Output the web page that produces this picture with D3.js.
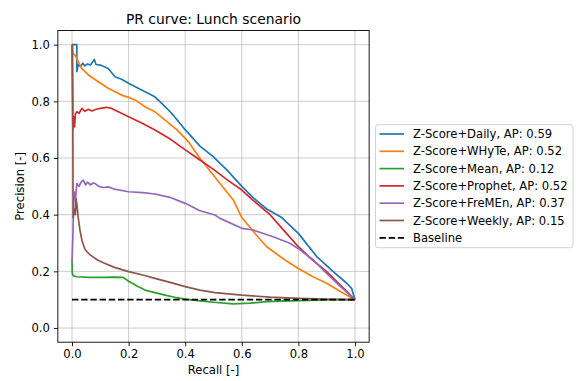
<!DOCTYPE html>
<html>
<head>
<meta charset="utf-8">
<script src="https://cdn.jsdelivr.net/npm/d3@7"></script>
<style>
  body { margin: 0; background: #fff; }
  text { font-family: "DejaVu Sans", sans-serif; fill: #000; }
</style>
</head>
<body>
<div id="chart"></div>
<script>
// tick labels
const xTicks = [0.0, 0.2, 0.4, 0.6, 0.8, 1.0];
const yTicks = [0.0, 0.2, 0.4, 0.6, 0.8, 1.0];

// series (recall, precision)
const dailyRecall = [0, 0.017, 0.017, 0.022, 0.03, 0.038, 0.045, 0.055, 0.065, 0.079, 0.085, 0.1, 0.128, 0.152, 0.175, 0.2, 0.246, 0.293, 0.32, 0.352, 0.4, 0.452, 0.499, 0.547, 0.6, 0.64, 0.664, 0.688, 0.741, 0.8, 0.865, 0.923, 0.971, 0.988, 1.0];
const dailyPrec   = [1.0, 1.0, 0.905, 0.93, 0.922, 0.935, 0.925, 0.932, 0.928, 0.948, 0.93, 0.928, 0.916, 0.887, 0.878, 0.864, 0.84, 0.816, 0.79, 0.758, 0.70, 0.642, 0.605, 0.558, 0.50, 0.46, 0.44, 0.42, 0.39, 0.334, 0.252, 0.199, 0.158, 0.14, 0.1];

const whyteRecall = [0, 0.005, 0.011, 0.034, 0.058, 0.093, 0.128, 0.175, 0.2, 0.223, 0.258, 0.293, 0.329, 0.37, 0.411, 0.452, 0.523, 0.57, 0.6, 0.65, 0.688, 0.75, 0.8, 0.85, 0.9, 0.95, 1.0];
const whytePrec   = [0.98, 0.968, 0.962, 0.916, 0.893, 0.869, 0.846, 0.822, 0.814, 0.805, 0.781, 0.763, 0.734, 0.70, 0.658, 0.599, 0.51, 0.452, 0.39, 0.33, 0.287, 0.242, 0.21, 0.182, 0.158, 0.128, 0.1];

const meanRecall = [0, 0.001, 0.005, 0.017, 0.06, 0.1, 0.15, 0.181, 0.2, 0.23, 0.258, 0.3, 0.329, 0.37, 0.4, 0.452, 0.5, 0.57, 0.63, 0.688, 0.8, 0.9, 1.0];
const meanPrec   = [0.24, 0.193, 0.184, 0.181, 0.179, 0.179, 0.18, 0.179, 0.165, 0.148, 0.134, 0.123, 0.116, 0.107, 0.102, 0.096, 0.091, 0.085, 0.088, 0.093, 0.097, 0.099, 0.1];

const prophetRecall = [0, 0.003, 0.006, 0.009, 0.012, 0.017, 0.025, 0.035, 0.045, 0.058, 0.07, 0.085, 0.1, 0.122, 0.14, 0.16, 0.2, 0.25, 0.293, 0.35, 0.393, 0.452, 0.5, 0.55, 0.6, 0.635, 0.7, 0.75, 0.8, 0.85, 0.9, 0.95, 1.0];
const prophetPrec   = [1.0, 0.70, 0.745, 0.71, 0.755, 0.763, 0.758, 0.775, 0.765, 0.772, 0.766, 0.772, 0.775, 0.779, 0.775, 0.765, 0.746, 0.722, 0.699, 0.665, 0.634, 0.593, 0.56, 0.522, 0.487, 0.455, 0.40, 0.343, 0.287, 0.24, 0.199, 0.15, 0.1];

const fremenRecall = [0, 0.003, 0.006, 0.01, 0.013, 0.017, 0.025, 0.032, 0.04, 0.048, 0.055, 0.065, 0.075, 0.081, 0.095, 0.11, 0.13, 0.15, 0.2, 0.25, 0.293, 0.35, 0.4, 0.452, 0.505, 0.523, 0.6, 0.64, 0.711, 0.77, 0.8, 0.853, 0.9, 0.95, 1.0];
const fremenPrec   = [0.235, 0.32, 0.44, 0.48, 0.46, 0.51, 0.50, 0.515, 0.522, 0.505, 0.515, 0.505, 0.512, 0.51, 0.50, 0.496, 0.498, 0.49, 0.481, 0.478, 0.473, 0.46, 0.44, 0.414, 0.399, 0.387, 0.352, 0.346, 0.322, 0.299, 0.28, 0.24, 0.193, 0.145, 0.1];

const weeklyRecall = [0, 0.002, 0.004, 0.008, 0.012, 0.014, 0.018, 0.022, 0.028, 0.035, 0.045, 0.052, 0.064, 0.09, 0.117, 0.15, 0.2, 0.25, 0.293, 0.35, 0.4, 0.452, 0.505, 0.6, 0.7, 0.8, 0.9, 1.0];
const weeklyPrec   = [1.0, 1.0, 0.39, 0.42, 0.40, 0.458, 0.43, 0.39, 0.346, 0.31, 0.28, 0.27, 0.258, 0.24, 0.228, 0.214, 0.199, 0.187, 0.175, 0.16, 0.146, 0.134, 0.125, 0.116, 0.109, 0.105, 0.102, 0.1];

const baselineRecall = [0, 1];
const baselinePrec = [0.1, 0.1];

const seriesNames = ["Z-Score+Daily, AP: 0.59", "Z-Score+WHyTe, AP: 0.52", "Z-Score+Mean, AP: 0.12",
  "Z-Score+Prophet, AP: 0.52", "Z-Score+FreMEn, AP: 0.37", "Z-Score+Weekly, AP: 0.15", "Baseline"];
const colors = ["#1f77b4", "#ff7f0e", "#2ca02c", "#d62728", "#9467bd", "#8c564b", "#000000"];

const allSeries = [
  [dailyRecall, dailyPrec], [whyteRecall, whytePrec], [meanRecall, meanPrec],
  [prophetRecall, prophetPrec], [fremenRecall, fremenPrec], [weeklyRecall, weeklyPrec],
  [baselineRecall, baselinePrec]
];

const W = 587, H = 381;
const plot = { left: 57.85, right: 369.15, top: 30.5, bottom: 342.2 };

const svg = d3.select("#chart").append("svg")
  .attr("width", W)
  .attr("height", H);

const x = d3.scaleLinear().domain([-0.05, 1.05]).range([plot.left, plot.right]);
const y = d3.scaleLinear().domain([-0.05, 1.05]).range([plot.bottom, plot.top]);

// grid
svg.append("g").selectAll("line").data(xTicks).enter().append("line")
  .attr("x1", d => x(d)).attr("x2", d => x(d))
  .attr("y1", plot.top).attr("y2", plot.bottom)
  .attr("stroke", "#b0b0b0").attr("stroke-width", 0.9).attr("opacity", 0.7);
svg.append("g").selectAll("line").data(yTicks).enter().append("line")
  .attr("y1", d => y(d)).attr("y2", d => y(d))
  .attr("x1", plot.left).attr("x2", plot.right)
  .attr("stroke", "#b0b0b0").attr("stroke-width", 0.9).attr("opacity", 0.7);

svg.append("clipPath").attr("id", "clip").append("rect")
  .attr("x", plot.left).attr("y", plot.top)
  .attr("width", plot.right - plot.left).attr("height", plot.bottom - plot.top);

const line = d3.line().x(d => x(d[0])).y(d => y(d[1]));

svg.append("g").attr("clip-path", "url(#clip)")
  .selectAll("path").data(allSeries).enter().append("path")
  .attr("d", s => line(s[0].map((r, i) => [r, s[1][i]])))
  .attr("fill", "none")
  .attr("stroke", (d, i) => colors[i])
  .attr("stroke-width", 1.7)
  .attr("stroke-linejoin", "round")
  .attr("stroke-dasharray", (d, i) => i === 6 ? "6.4,2.8" : null);

// axes
const xAxis = svg.append("g")
  .attr("transform", "translate(0," + plot.bottom + ")")
  .call(d3.axisBottom(x).tickValues(xTicks).tickFormat(d3.format(".1f")).tickSizeOuter(0).tickSize(4).tickPadding(4));
const yAxis = svg.append("g")
  .attr("transform", "translate(" + plot.left + ",0)")
  .call(d3.axisLeft(y).tickValues(yTicks).tickFormat(d3.format(".1f")).tickSizeOuter(0).tickSize(4).tickPadding(4));
[xAxis, yAxis].forEach(a => {
  a.select(".domain").remove();
  a.selectAll("text").style("font-size", "11.6px").style("font-family", "DejaVu Sans");
  a.selectAll("line").attr("stroke-width", 0.9);
});

svg.append("rect")
  .attr("x", plot.left).attr("y", plot.top)
  .attr("width", plot.right - plot.left).attr("height", plot.bottom - plot.top)
  .attr("fill", "none").attr("stroke", "#000").attr("stroke-width", 0.9);

// title and labels
svg.append("text")
  .attr("x", (plot.left + plot.right) / 2).attr("y", 24)
  .attr("text-anchor", "middle").style("font-size", "13.9px")
  .text("PR curve: Lunch scenario");
svg.append("text")
  .attr("x", (plot.left + plot.right) / 2).attr("y", 374)
  .attr("text-anchor", "middle").style("font-size", "11.6px")
  .text("Recall [-]");
svg.append("text")
  .attr("transform", "translate(24," + ((plot.top + plot.bottom) / 2) + ") rotate(-90)")
  .attr("text-anchor", "middle").style("font-size", "11.6px")
  .text("Precision [-]");

// legend
const legend = svg.append("g");
legend.append("rect")
  .attr("x", 375.5).attr("y", 124.7).attr("width", 197.5).attr("height", 123)
  .attr("rx", 2.5).attr("fill", "#fff").attr("fill-opacity", 0.8)
  .attr("stroke", "#cccccc").attr("stroke-width", 0.9);
const item = legend.selectAll(".legend").data(seriesNames).enter().append("g")
  .attr("class", "legend")
  .attr("transform", (d, i) => "translate(0," + (134 + i * 17.3) + ")");
item.append("line")
  .attr("x1", 379.5).attr("x2", 404).attr("y1", 0).attr("y2", 0)
  .attr("stroke", (d, i) => colors[i]).attr("stroke-width", 1.7)
  .attr("stroke-dasharray", (d, i) => i === 6 ? "6.4,2.8" : null);
item.append("text")
  .attr("x", 413).attr("y", 0).attr("dy", "0.36em")
  .style("font-size", "11.6px")
  .text(d => d);
</script>
</body>
</html>
